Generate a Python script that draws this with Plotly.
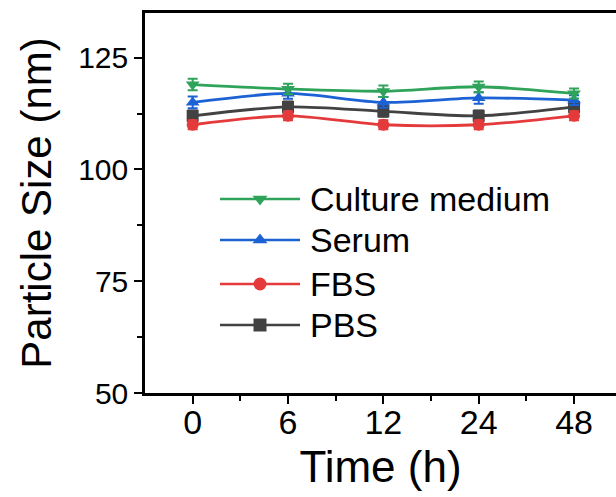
import plotly.graph_objects as go

# Sampling times (h) and mean particle sizes (nm) with error bars
times = ["0", "6", "12", "24", "48"]
culture_medium = [119.0, 118.0, 117.5, 118.5, 117.0]
culture_err = [1.3, 1.2, 1.3, 1.2, 1.1]
serum = [115.0, 117.0, 115.0, 116.0, 115.5]
serum_err = [1.3, 1.2, 1.2, 1.3, 1.1]
fbs = [110.0, 112.0, 110.0, 110.0, 112.0]
fbs_err = [1.0, 1.0, 1.0, 1.0, 1.0]
pbs = [112.0, 114.0, 113.0, 112.0, 114.0]
pbs_err = [1.2, 1.2, 1.2, 1.2, 1.2]

series = [
    ("Culture medium", culture_medium, culture_err, "#2fa35a", "triangle-down"),
    ("Serum", serum, serum_err, "#1c62d4", "triangle-up"),
    ("FBS", fbs, fbs_err, "#e43a3c", "circle"),
    ("PBS", pbs, pbs_err, "#424242", "square"),
]

FONT = "Liberation Sans, Arial, sans-serif"

# Plot area in pixels (used to place the hand-built legend)
W, H = 616, 497
ML, MR, MT, MB = 145, 0, 13, 104
PW, PH = W - ML - MR, H - MT - MB

def px_x(px):
    return (px - ML) / PW

def px_y(py):
    return (H - MB - py) / PH

fig = go.Figure()
# Draw back to front so the green series ends up on top
for name, vals, errs, color, symbol in reversed(series):
    fig.add_trace(go.Scatter(
        x=list(range(len(times))), y=vals, name=name,
        mode="lines+markers", showlegend=False,
        line=dict(color=color, width=2.8, shape="spline", smoothing=0.8),
        marker=dict(color=color, symbol=symbol, size=12),
        error_y=dict(type="data", array=errs, color=color, thickness=2, width=5),
    ))

# Legend: line + marker sample on an overlay axis in plot-fraction units, label as text
legend_rows = [199, 240, 284, 325]
line_x0, line_x1, text_x = 220, 300, 308
annotations = []
for (name, vals, errs, color, symbol), row in zip(series, legend_rows):
    yy = px_y(row)
    fig.add_trace(go.Scatter(
        x=[px_x(line_x0), px_x(line_x1)], y=[yy, yy],
        xaxis="x2", yaxis="y2", showlegend=False, hoverinfo="skip",
        mode="lines", line=dict(color=color, width=2.5),
    ))
    fig.add_trace(go.Scatter(
        x=[px_x((line_x0 + line_x1) / 2)], y=[yy],
        xaxis="x2", yaxis="y2", showlegend=False, hoverinfo="skip",
        mode="markers", marker=dict(color=color, symbol=symbol, size=13),
    ))
    annotations.append(dict(
        x=px_x(text_x), y=yy, xref="paper", yref="paper",
        xanchor="left", yanchor="middle", showarrow=False,
        text=name, font=dict(family=FONT, size=34, color="black"),
    ))

fig.update_layout(
    width=W, height=H,
    margin=dict(l=ML, r=MR, t=MT, b=MB),
    plot_bgcolor="white", paper_bgcolor="white",
    font=dict(family=FONT, color="black"),
    showlegend=False,
    annotations=annotations,
    xaxis2=dict(overlaying="x", range=[0, 1], visible=False, fixedrange=True),
    yaxis2=dict(overlaying="y", range=[0, 1], visible=False, fixedrange=True),
)

fig.layout.xaxis.update(
    range=[-0.5, 4.44],
    tickmode="array", tickvals=list(range(len(times))), ticktext=times,
    showline=True, linecolor="black", linewidth=2.5, mirror=True,
    ticks="outside", ticklen=8, tickwidth=2, tickcolor="black",
    tickfont=dict(size=34, family=FONT), ticklabelstandoff=-11,
    minor=dict(tickvals=[0.5, 1.5, 2.5, 3.5], ticks="outside", ticklen=5, tickwidth=2, tickcolor="black"),
    showgrid=False, zeroline=False,
    title=dict(text="Time (h)", font=dict(size=44, family=FONT), standoff=12),
)
fig.layout.yaxis.update(
    range=[50, 135],
    tickvals=[50, 75, 100, 125],
    showline=True, linecolor="black", linewidth=2.5, mirror=False,
    ticks="outside", ticklen=8, tickwidth=2, tickcolor="black",
    tickfont=dict(size=30, family=FONT),
    minor=dict(tickvals=[62.5, 87.5, 112.5], ticks="outside", ticklen=5, tickwidth=2, tickcolor="black"),
    showgrid=False, zeroline=False,
    title=dict(text="Particle Size (nm)", font=dict(size=42, family=FONT), standoff=14),
)

fig.write_html("out.html")
